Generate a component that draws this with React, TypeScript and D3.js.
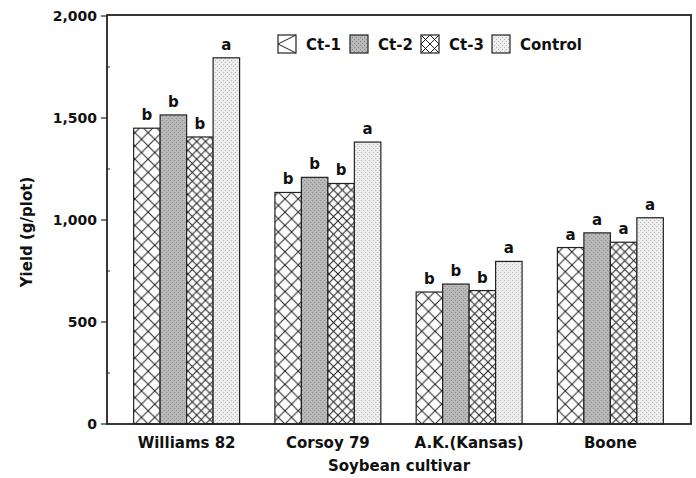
import React from "react";
import * as d3 from "d3";

const cultivars = ["Williams 82", "Corsoy 79", "A.K.(Kansas)", "Boone"];
const treatments = ["Ct-1", "Ct-2", "Ct-3", "Control"];
const ct1 = [1450, 1135, 647, 865];
const ct2 = [1515, 1209, 686, 937];
const ct3 = [1407, 1179, 654, 891];
const control = [1795, 1382, 797, 1011];
const ct1Letters = ["b", "b", "b", "a"];
const ct2Letters = ["b", "b", "b", "a"];
const ct3Letters = ["b", "b", "b", "a"];
const controlLetters = ["a", "a", "a", "a"];
const yTicks = [0, 500, 1000, 1500, 2000];
const yMinorTicks = [250, 750, 1250, 1750];

const series = [ct1, ct2, ct3, control];
const letters = [ct1Letters, ct2Letters, ct3Letters, controlLetters];

const W = 696;
const H = 478;
const margin = { top: 16, right: 5, bottom: 54, left: 107 };
const font = "'DejaVu Sans', sans-serif";

// pattern content for each treatment, drawn in a w x h tile
const PatternBody = ({ kind, w, h }: { kind: number; w: number; h: number }) => {
  if (kind === 0 || kind === 2) {
    return (
      <g stroke="#222" strokeWidth={1} fill="none">
        <rect width={w} height={h} fill="#fff" stroke="none" />
        <line x1={0} y1={0} x2={w} y2={h} />
        <line x1={w} y1={0} x2={0} y2={h} />
      </g>
    );
  }
  const bg = kind === 1 ? "#b9b9b9" : "#eeeeee";
  const dot = kind === 1 ? "#858585" : "#b0b0b0";
  return (
    <g>
      <rect width={w} height={h} fill={bg} />
      <rect x={0} y={0} width={1} height={1} fill={dot} />
      <rect x={w / 2} y={h / 2} width={1} height={1} fill={dot} />
    </g>
  );
};

export default function App() {
  const x0 = d3
    .scaleBand<string>()
    .domain(cultivars)
    .range([116, 681])
    .paddingInner(0.25)
    .paddingOuter(0.125);
  const x1 = d3
    .scaleBand<string>()
    .domain(treatments)
    .range([0, x0.bandwidth()]);
  const y = d3
    .scaleLinear()
    .domain([0, 2000])
    .range([H - margin.bottom, margin.top]);

  const bw = x1.bandwidth();
  const tileSize = (k: number) => (k === 0 ? bw / 2 : k === 2 ? bw / 3 : 4);
  const plotRight = W - margin.right;
  const y0 = y(0);

  const legendX = [278, 350, 421, 492];
  const legendY = 35;
  const box = 18;

  return (
    <svg width={W} height={H} style={{ position: "absolute", left: 0, top: 0 }} fontFamily={font} fontWeight="bold">
      <defs>
        {cultivars.map((c, ci) =>
          treatments.map((t, ti) => {
            const bx = (x0(c) as number) + (x1(t) as number);
            const s = tileSize(ti);
            return (
              <pattern
                key={`p${ci}-${ti}`}
                id={`p${ci}-${ti}`}
                patternUnits="userSpaceOnUse"
                x={bx}
                y={y0}
                width={s}
                height={s}
              >
                <PatternBody kind={ti} w={s} h={s} />
              </pattern>
            );
          })
        )}
        {treatments.map((t, ti) => {
          const s = ti === 2 ? 9 : 4;
          return (
            <pattern
              key={`l${ti}`}
              id={`leg${ti}`}
              patternUnits="userSpaceOnUse"
              x={legendX[ti]}
              y={legendY}
              width={s}
              height={s}
            >
              <PatternBody kind={ti} w={s} h={s} />
            </pattern>
          );
        })}
      </defs>

      {/* bars */}
      {cultivars.map((c, ci) => (
        <g key={c} transform={`translate(${x0(c)},0)`}>
          {treatments.map((t, ti) => {
            const v = series[ti][ci];
            return (
              <g key={t}>
                <rect
                  x={x1(t)}
                  y={y(v)}
                  width={bw}
                  height={y0 - y(v)}
                  fill={`url(#p${ci}-${ti})`}
                  stroke="#222"
                  strokeWidth={1.2}
                />
                <text
                  x={(x1(t) as number) + bw / 2}
                  y={y(v) - 8}
                  textAnchor="middle"
                  fontSize={15}
                  fill="#111"
                >
                  {letters[ti][ci]}
                </text>
              </g>
            );
          })}
        </g>
      ))}

      {/* frame */}
      <rect
        x={margin.left}
        y={margin.top - 1}
        width={plotRight - margin.left}
        height={y0 - margin.top + 1}
        fill="none"
        stroke="#222"
        strokeWidth={1.8}
      />

      {/* y axis ticks */}
      {yTicks.map((t) => (
        <g key={t}>
          <line x1={margin.left - 6} x2={margin.left} y1={y(t)} y2={y(t)} stroke="#222" strokeWidth={1.2} />
          <text x={97} y={y(t)} dy="0.36em" textAnchor="end" fontSize={14} fill="#111">
            {d3.format(",")(t)}
          </text>
        </g>
      ))}
      {yMinorTicks.map((t) => (
        <line key={t} x1={margin.left} x2={margin.left + 3} y1={y(t)} y2={y(t)} stroke="#222" strokeWidth={1} />
      ))}

      {/* x labels */}
      {cultivars.map((c) => (
        <text
          key={c}
          x={(x0(c) as number) + x0.bandwidth() / 2}
          y={448}
          textAnchor="middle"
          fontSize={15}
          fill="#111"
        >
          {c}
        </text>
      ))}
      <text x={(margin.left + plotRight) / 2} y={471} textAnchor="middle" fontSize={15} fill="#111">
        Soybean cultivar
      </text>
      <text
        transform={`translate(32,${232}) rotate(-90)`}
        textAnchor="middle"
        fontSize={15}
        fill="#111"
      >
        Yield (g/plot)
      </text>

      {/* legend */}
      {treatments.map((t, ti) => (
        <g key={t}>
          <rect
            x={legendX[ti]}
            y={legendY}
            width={box}
            height={box}
            fill={ti === 0 ? "#fff" : `url(#leg${ti})`}
            stroke="#222"
            strokeWidth={1.2}
          />
          {ti === 0 && (
            <polyline
              points={`${legendX[ti] + box},${legendY} ${legendX[ti]},${legendY + box / 2} ${legendX[ti] + box},${legendY + box}`}
              fill="none"
              stroke="#222"
              strokeWidth={1}
            />
          )}
          <text x={legendX[ti] + 28} y={50} fontSize={15} fill="#111">
            {t}
          </text>
        </g>
      ))}
    </svg>
  );
}
